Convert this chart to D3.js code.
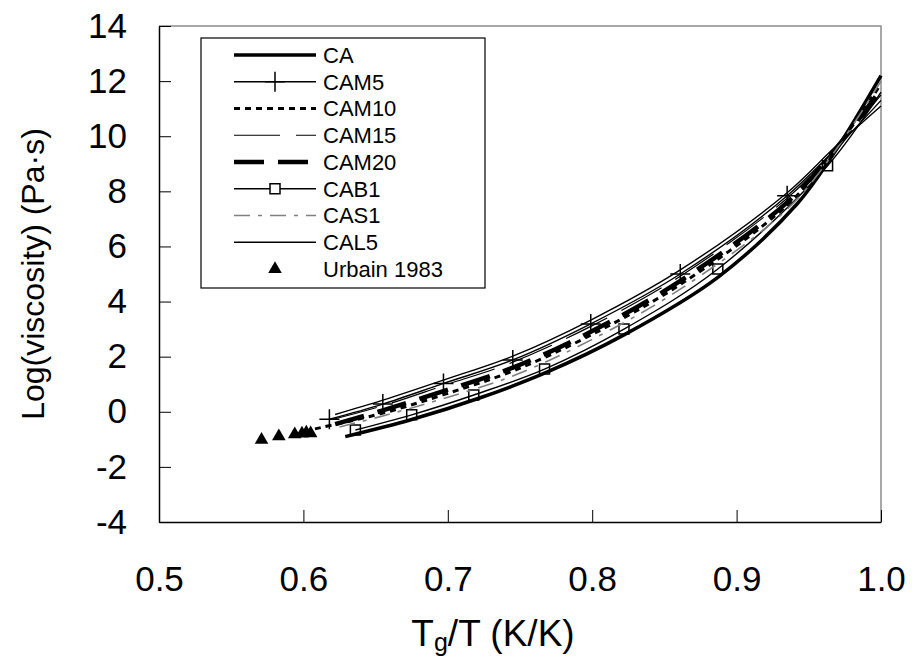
<!DOCTYPE html>
<html>
<head>
<meta charset="utf-8">
<script src="https://cdn.jsdelivr.net/npm/d3@7"></script>
<style>
  body { margin: 0; background: #fff; }
  svg { display: block; font-family: Arial, "Liberation Sans", sans-serif; }
</style>
</head>
<body>
<svg></svg>
<script>
// legend order
let seriesNames = ['CA', 'CAM5', 'CAM10', 'CAM15', 'CAM20', 'CAB1', 'CAS1', 'CAL5', 'Urbain 1983']

// [Tg/T, log viscosity]
let CA = [[0.629, -0.90], [0.675, -0.28], [0.722, 0.50], [0.767, 1.40], [0.822, 2.79], [0.887, 4.88], [0.942, 7.55], [0.967, 9.35], [1.0, 12.2]]
let CAM5 = [[0.618, -0.27], [0.655, 0.28], [0.697, 1.03], [0.745, 1.88], [0.799, 3.19], [0.861, 5.0], [0.935, 7.84], [1.0, 11.3]]
let CAM10 = [[0.608, -0.62], [0.655, -0.05], [0.697, 0.62], [0.745, 1.48], [0.799, 2.78], [0.861, 4.62], [0.935, 7.5], [0.968, 9.5], [1.0, 11.9]]
let CAM15 = [[0.620, -0.28], [0.655, 0.22], [0.697, 0.95], [0.745, 1.80], [0.799, 3.10], [0.861, 4.92], [0.935, 7.75], [0.968, 9.5], [1.0, 11.5]]
let CAM20 = [[0.622, -0.45], [0.655, 0.05], [0.697, 0.75], [0.745, 1.60], [0.799, 2.90], [0.861, 4.75], [0.935, 7.6], [0.968, 9.5], [1.0, 11.7]]
let CAB1 = [[0.636, -0.66], [0.675, -0.11], [0.718, 0.61], [0.767, 1.55], [0.822, 3.0], [0.887, 5.18], [0.963, 8.93], [1.0, 11.6]]
let CAS1 = [[0.625, -0.55], [0.655, -0.15], [0.697, 0.48], [0.745, 1.30], [0.799, 2.60], [0.861, 4.45], [0.935, 7.35], [0.968, 9.45], [1.0, 12.0]]
let CAL5 = [[0.622, -0.10], [0.655, 0.42], [0.697, 1.15], [0.745, 2.02], [0.799, 3.33], [0.861, 5.15], [0.935, 7.95], [0.968, 9.6], [1.0, 11.1]]
let Urbain = [[0.571, -1.02], [0.583, -0.89], [0.594, -0.82], [0.599, -0.79], [0.602, -0.76], [0.605, -0.78]]

let xTicks = [0.5, 0.6, 0.7, 0.8, 0.9, 1.0]
let yTicks = [-4, -2, 0, 2, 4, 6, 8, 10, 12, 14]

let seriesData = [CA, CAM5, CAM10, CAM15, CAM20, CAB1, CAS1, CAL5, Urbain]

// how each series is drawn
let styles = [
  { color: '#000', width: 3.5, dash: null, marker: null },
  { color: '#000', width: 1.4, dash: null, marker: 'cross' },
  { color: '#000', width: 3, dash: '6,5', marker: null },
  { color: '#000', width: 1.2, dash: '46,16', marker: null },
  { color: '#000', width: 4.5, dash: '30,14', marker: null },
  { color: '#000', width: 1.4, dash: null, marker: 'square' },
  { color: '#7f7f7f', width: 1.6, dash: '16,8,4,8', marker: null },
  { color: '#000', width: 1.4, dash: null, marker: null },
  { color: '#000', width: 0, dash: null, marker: 'triangle' }
]

let width = 912
let height = 659
let plotLeft = 159, plotRight = 881, plotTop = 26, plotBottom = 522

let svg = d3.select('svg').attr('width', width).attr('height', height)

let xScale = d3.scaleLinear().domain([0.5, 1.0]).range([plotLeft, plotRight])
let yScale = d3.scaleLinear().domain([-4, 14]).range([plotBottom, plotTop])

// plot area frame (grey top and right edges)
svg.append('path')
  .attr('d', 'M' + plotLeft + ',' + plotTop + 'H' + plotRight + 'V' + plotBottom)
  .attr('fill', 'none')
  .attr('stroke', '#8c8c8c')
  .attr('stroke-width', 1.5)

let markerPath = (type) => {
  if (type === 'cross') return 'M-10,0H10M0,-10V10'
  if (type === 'square') return 'M-5,-5H5V5H-5Z'
  if (type === 'triangle') return d3.symbol(d3.symbolTriangle, 80)()
  return ''
}

let line = d3.line()
  .x(d => xScale(d[0]))
  .y(d => yScale(d[1]))
  .curve(d3.curveCatmullRom.alpha(0.5))

seriesData.forEach((data, i) => {
  let st = styles[i]
  if (st.width > 0) {
    svg.append('path')
      .datum(data)
      .attr('d', line)
      .attr('fill', 'none')
      .attr('stroke', st.color)
      .attr('stroke-width', st.width)
      .attr('stroke-dasharray', st.dash)
  }
  if (st.marker) {
    // no marker on the end point at the right edge
    let pts = st.marker === 'triangle' ? data : data.slice(0, -1)
    svg.append('g').selectAll('path')
      .data(pts)
      .enter()
      .append('path')
      .attr('transform', d => 'translate(' + xScale(d[0]) + ',' + yScale(d[1]) + ')')
      .attr('d', markerPath(st.marker))
      .attr('fill', st.marker === 'triangle' ? '#000' : 'none')
      .attr('stroke', st.marker === 'triangle' ? 'none' : '#000')
      .attr('stroke-width', 1.5)
  }
})

// axes
let xAxis = d3.axisBottom(xScale)
  .tickValues(xTicks)
  .tickFormat(d3.format('.1f'))
  .tickSizeInner(-12)
  .tickSizeOuter(0)
  .tickPadding(44)

let yAxis = d3.axisLeft(yScale)
  .tickValues(yTicks)
  .tickFormat(d => String(d))
  .tickSizeInner(-12)
  .tickSizeOuter(0)
  .tickPadding(32)

let gx = svg.append('g')
  .attr('transform', 'translate(0,' + plotBottom + ')')
  .call(xAxis)
gx.selectAll('text').attr('font-size', 35).attr('fill', '#000').attr('font-family', 'Arial, "Liberation Sans", sans-serif')
gx.selectAll('line').attr('stroke', '#000')
gx.select('.domain').attr('stroke', '#000').attr('stroke-width', 1.5)

let gy = svg.append('g')
  .attr('transform', 'translate(' + plotLeft + ',0)')
  .call(yAxis)
gy.selectAll('text').attr('font-size', 35).attr('fill', '#000').attr('font-family', 'Arial, "Liberation Sans", sans-serif')
gy.selectAll('line').attr('stroke', '#000')
gy.select('.domain').attr('stroke', '#000').attr('stroke-width', 1.5)

// axis titles
let xTitle = svg.append('text')
  .attr('x', 493)
  .attr('y', 646)
  .attr('text-anchor', 'middle')
  .attr('font-size', 37)
xTitle.append('tspan').text('T')
xTitle.append('tspan').attr('font-size', 25).attr('dy', 5).text('g')
xTitle.append('tspan').attr('dy', -5).text('/T (K/K)')

svg.append('text')
  .attr('transform', 'translate(44,274) rotate(-90)')
  .attr('text-anchor', 'middle')
  .attr('font-size', 32)
  .text('Log(viscosity) (Pa\u00b7s)')

// legend
let legX = 201, legY = 38, legW = 284, legH = 250
svg.append('rect')
  .attr('x', legX).attr('y', legY)
  .attr('width', legW).attr('height', legH)
  .attr('fill', '#fff')
  .attr('stroke', '#000')
  .attr('stroke-width', 1.2)

let rowH = 26.75
seriesNames.forEach((name, i) => {
  let st = styles[i]
  let cy = 55 + i * rowH
  if (st.width > 0) {
    svg.append('line')
      .attr('x1', 234).attr('x2', 316)
      .attr('y1', cy).attr('y2', cy)
      .attr('stroke', st.color)
      .attr('stroke-width', st.width)
      .attr('stroke-dasharray', st.dash)
  }
  if (st.marker) {
    svg.append('path')
      .attr('transform', 'translate(275,' + cy + ')')
      .attr('d', markerPath(st.marker))
      .attr('fill', st.marker === 'triangle' ? '#000' : (st.marker === 'square' ? '#fff' : 'none'))
      .attr('stroke', st.marker === 'triangle' ? 'none' : '#000')
      .attr('stroke-width', 1.5)
  }
  svg.append('text')
    .attr('x', 323)
    .attr('y', cy)
    .attr('dy', '0.36em')
    .attr('font-size', 22)
    .text(name)
})
</script>
</body>
</html>
